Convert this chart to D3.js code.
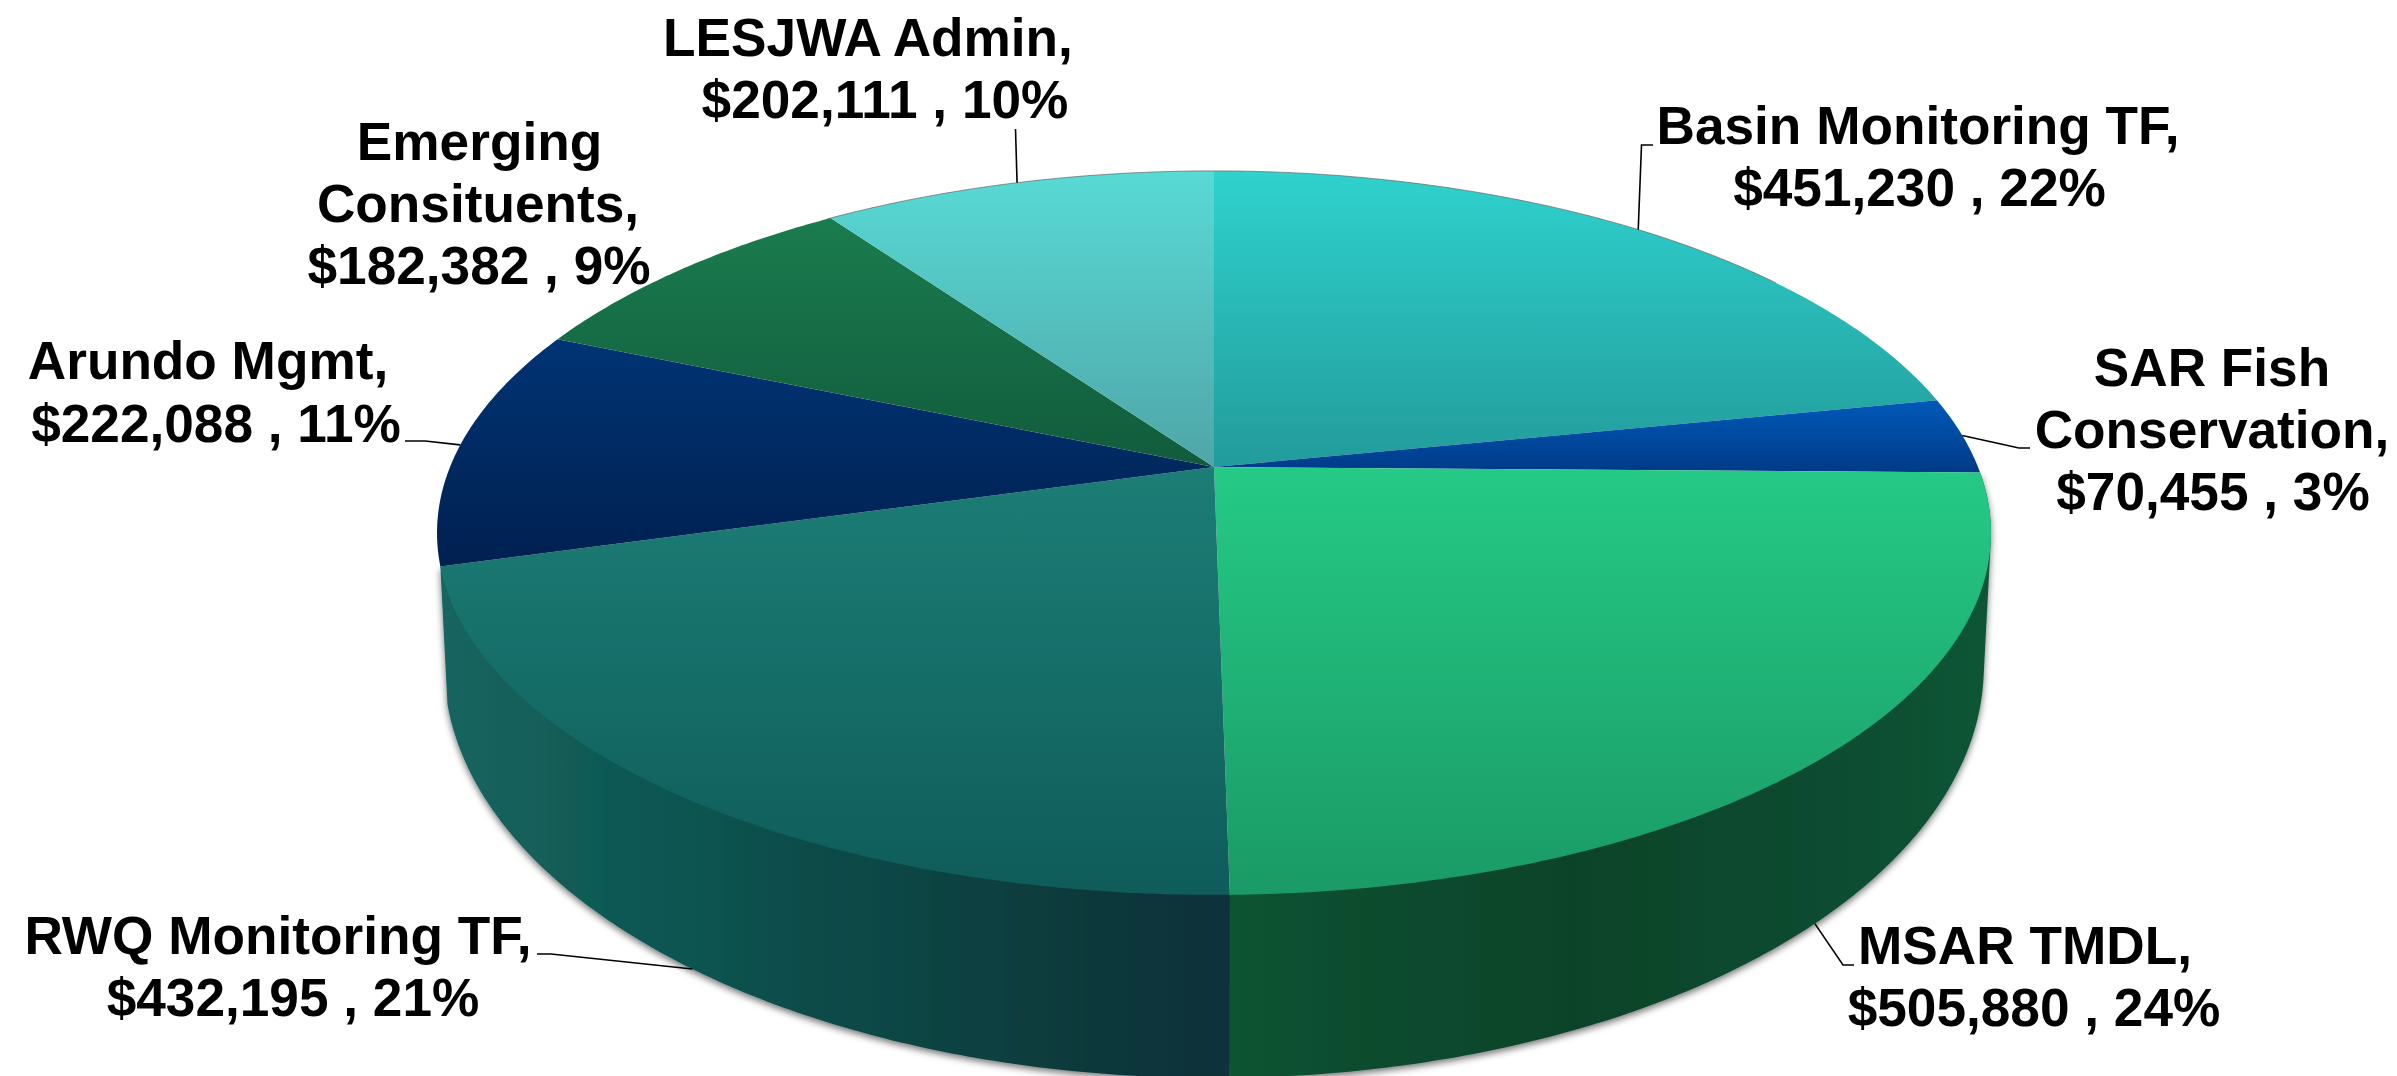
<!DOCTYPE html>
<html>
<head>
<meta charset="utf-8">
<script src="https://cdn.jsdelivr.net/npm/d3@7/dist/d3.min.js"></script>
<style>
html,body{margin:0;padding:0;background:#fff;overflow:hidden}
svg{display:block}
text{font-family:"Liberation Sans",Arial,sans-serif;font-weight:700;font-size:53.2px;fill:#000;text-anchor:middle}
</style>
</head>
<body>
<svg id="c" width="2397" height="1076"></svg>
<script>
// ---- data (clockwise from 12 o'clock)
const categories = ["Basin Monitoring TF","SAR Fish Conservation","MSAR TMDL","RWQ Monitoring TF","Arundo Mgmt","Emerging Consituents","LESJWA Admin"];
const values = [451230,70455,505880,432195,222088,182382,202111];
const nameLines = [["Basin Monitoring TF,"],["SAR Fish","Conservation,"],["MSAR TMDL,"],["RWQ Monitoring TF,"],["Arundo Mgmt,"],["Emerging","Consituents,"],["LESJWA Admin,"]];

// ---- styles
const topFrom  = ["#2fd2cd","#005ab8","#25ca86","#1c7e76","#003474","#1a7c4e","#58dad5"];
const topTo    = ["#229b9b","#003a88","#1a9a66","#0f5c5a","#002050","#115b3c","#4fa6a8"];
const wallStops = {
  2:[[0,"#0c5433"],[0.1,"#0b4f30"],[0.45,"#0a432a"],[0.8,"#0b4c30"],[1,"#0c5535"]],
  3:[[0,"#14655f"],[0.5,"#0c4a48"],[0.8,"#0a3a3b"],[0.97,"#093239"],[1,"#09303a"]]
};
const labelCx = [[1918,1919.5],[2212,2212,2213],[2025,2034],[278,293],[208,216],[479.5,478,479],[868,885]];
const labelBase = [[144,206],[386,448,510],[964,1026],[954,1016],[379,442],[160,222,284],[56,118]];
const leaderStart = [[[1653,145],[1641.5,145]],[[2030,448],[2019,448]],[[1854,965],[1843,965]],[[537,954],[551,954]],[[405,441],[425,441]],[],[[1015.5,129]]];
const leaderOnWall = [false,false,true,true,false,false,false];
const leaderShift = [0,0,0.026,-0.012,0,0,0];

// ---- perspective disc
const k = 0.182;
const cx = 1214;
const topRim = {y0:467, S:350, R:764};
const lowRim = {y0:591, S:398.4, R:757};
const project = (a, rim) => {
  const u = Math.sin(a), v = Math.cos(a), w = 1 + k*v;
  return [cx + rim.R*u/w, rim.y0 - rim.S*v/w];
};

const svg = d3.select("#c");
const defs = svg.append("defs");
const pie = d3.pie().sort(null).value(d=>d);
const arcs = pie(values);
const total = d3.sum(values);
const money = d3.format("$,");
const pct = d3.format(".0%");
const line = d3.line();
const samples = (a0,a1) => { const n = Math.max(2,Math.ceil((a1-a0)/0.01)); return d3.range(n+1).map(i=>a0+(a1-a0)*i/n); };
const midAngle = d => (d.startAngle+d.endAngle)/2;

arcs.forEach((d,i)=>{
  const g = defs.append("linearGradient").attr("id","t"+i).attr("x1",0).attr("y1",0).attr("x2",0).attr("y2",1);
  g.append("stop").attr("offset",0).attr("stop-color",topFrom[i]);
  g.append("stop").attr("offset",1).attr("stop-color",topTo[i]);
  if (wallStops[i]) {
    const w = defs.append("linearGradient").attr("id","w"+i).attr("x1",0).attr("y1",0).attr("x2",1).attr("y2",0);
    wallStops[i].forEach(s=>w.append("stop").attr("offset",s[0]).attr("stop-color",s[1]));
  }
});
const f = defs.append("filter").attr("id","sh").attr("x","-5%").attr("y","-5%").attr("width","110%").attr("height","110%");
f.append("feDropShadow").attr("dx",0).attr("dy",3).attr("stdDeviation",3.5).attr("flood-color","#000").attr("flood-opacity",0.55);

// side wall: only the slices facing the viewer show it
const front = arcs.filter(d=>Math.cos(midAngle(d))<0);
svg.append("g").attr("filter","url(#sh)").selectAll("path").data(front).join("path")
  .attr("fill",d=>`url(#w${d.index})`)
  .attr("d",d=>{
    const as = samples(d.startAngle,d.endAngle);
    const hull = d3.polygonHull(as.map(a=>project(a,topRim)).concat(as.map(a=>project(a,lowRim))));
    return line(hull)+"Z";
  });

// top face
svg.append("g").selectAll("path").data(arcs).join("path")
  .attr("fill",(d,i)=>`url(#t${i})`)
  .attr("d",d=>{
    const pts = samples(d.startAngle,d.endAngle).map(a=>project(a,topRim));
    return line([[cx,topRim.y0]].concat(pts))+"Z";
  });

// thin grey edge along the back rim
svg.append("path").attr("fill","none").attr("stroke","#666").attr("stroke-width",1).attr("stroke-opacity",0.7)
  .attr("d",line(samples(-0.62,0.95).map(a=>project(a,topRim))));

// leader lines
svg.append("g").attr("fill","none").attr("stroke","#000").attr("stroke-width",1.6)
  .selectAll("path").data(arcs.filter((d,i)=>leaderStart[i].length)).join("path")
  .attr("d",d=>{
    const i = d.index;
    return line(leaderStart[i].concat([project(midAngle(d)+leaderShift[i], leaderOnWall[i]?lowRim:topRim)]));
  });

// labels
const lab = svg.append("g");
arcs.forEach((d,i)=>{
  const lines = nameLines[i].concat([`${money(values[i])} , ${pct(values[i]/total)}`]);
  lines.forEach((t,j)=>{
    lab.append("text").attr("x",labelCx[i][j]).attr("y",labelBase[i][j]).text(t);
  });
});
</script>
</body>
</html>
